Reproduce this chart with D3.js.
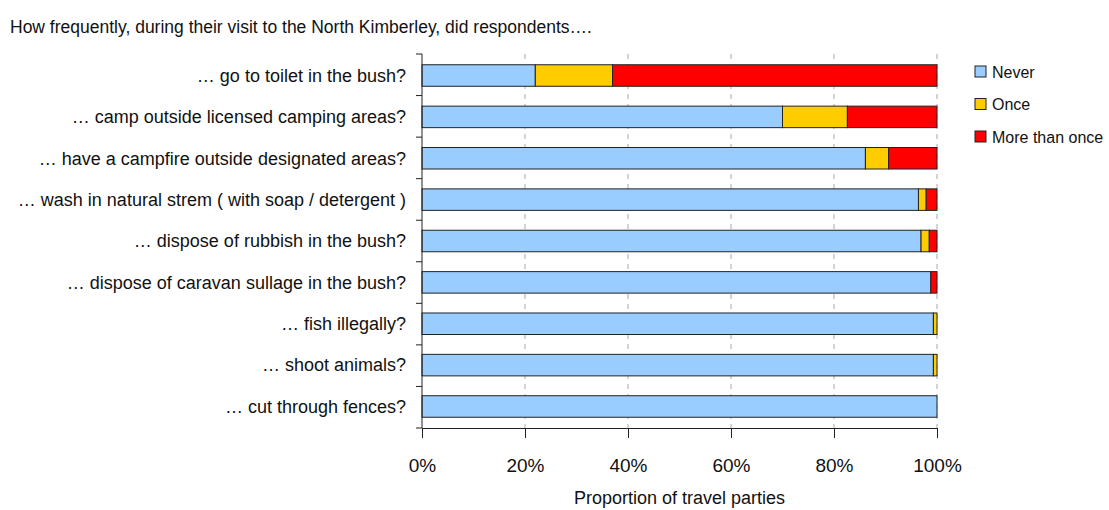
<!DOCTYPE html>
<html>
<head>
<meta charset="utf-8">
<script src="https://cdn.jsdelivr.net/npm/d3@7"></script>
<style>
  body { margin: 0; background: #fff; }
  svg { display: block; }
  text { font-family: "Liberation Sans Narrow", "Arial Narrow", "Liberation Sans", sans-serif; fill: #111; }
</style>
</head>
<body>
<svg id="chart" width="1109" height="510"></svg>
<script>
// Behaviours asked about in the survey (top to bottom)
const categories = [
  "… go to toilet in the bush?",
  "… camp outside licensed camping areas?",
  "… have a campfire outside designated areas?",
  "… wash in natural strem ( with soap / detergent )",
  "… dispose of rubbish in the bush?",
  "… dispose of caravan sullage in the bush?",
  "… fish illegally?",
  "… shoot animals?",
  "… cut through fences?"
];
// Share of travel parties (%) for each response
const never        = [22.0, 70.0, 86.1, 96.4, 96.9, 98.8, 99.3, 99.3, 100.0];
const once         = [15.0, 12.6,  4.5,  1.5,  1.6,  0.0,  0.7,  0.7,   0.0];
const moreThanOnce = [63.0, 17.4,  9.4,  2.1,  1.5,  1.2,  0.0,  0.0,   0.0];

const seriesNames = ["Never", "Once", "More than once"];
const seriesColors = ["#99ccff", "#ffcc00", "#ff0000"];
const tickValues = [0, 20, 40, 60, 80, 100];

const svg = d3.select("#chart");
const margin = { left: 422, right: 172, top: 54, bottom: 82 };
const W = 1109, H = 510;

const rows = categories.map((c, i) => ({ cat: c, Never: never[i], Once: once[i], "More than once": moreThanOnce[i] }));
const stacked = d3.stack().keys(seriesNames)(rows);

const x = d3.scaleLinear().domain([0, 100]).range([margin.left, W - margin.right]);
const y = d3.scaleBand().domain(categories).range([margin.top, H - margin.bottom]).paddingInner(0.48).paddingOuter(0.26);
const color = d3.scaleOrdinal().domain(seriesNames).range(seriesColors);

// Title
svg.append("text").attr("x", 10).attr("y", 33).attr("font-size", 17.5).text("How frequently, during their visit to the North Kimberley, did respondents….");

// Dashed vertical gridlines
svg.append("g").selectAll("line").data(tickValues.slice(1)).join("line")
  .attr("x1", d => x(d)).attr("x2", d => x(d))
  .attr("y1", margin.top).attr("y2", H - margin.bottom)
  .attr("stroke", "#aaa").attr("stroke-width", 1).attr("stroke-dasharray", "5,5");

// Stacked bars
svg.append("g").selectAll("g").data(stacked).join("g")
  .attr("fill", d => color(d.key))
  .selectAll("rect").data(d => d.filter(s => s[1] - s[0] > 0)).join("rect")
  .attr("x", d => x(d[0]))
  .attr("y", d => y(d.data.cat))
  .attr("width", d => x(d[1]) - x(d[0]))
  .attr("height", y.bandwidth())
  .attr("stroke", "#222").attr("stroke-width", 1);

// Y axis with category labels
const yAxisG = svg.append("g");
yAxisG.append("line").attr("x1", margin.left).attr("x2", margin.left)
  .attr("y1", margin.top).attr("y2", H - margin.bottom).attr("stroke", "#222");
const boundaries = d3.range(categories.length + 1).map(i => margin.top + i * (H - margin.top - margin.bottom) / categories.length);
yAxisG.selectAll("line.tk").data(boundaries).join("line").attr("class", "tk")
  .attr("x1", margin.left - 6).attr("x2", margin.left)
  .attr("y1", d => d).attr("y2", d => d).attr("stroke", "#222");
yAxisG.selectAll("text").data(categories).join("text")
  .attr("x", margin.left - 16)
  .attr("y", d => y(d) + y.bandwidth() / 2)
  .attr("dy", "0.35em").attr("text-anchor", "end").attr("font-size", 18)
  .text(d => d);

// X axis
const xAxis = d3.axisBottom(x).tickValues(tickValues).tickFormat(d => d + "%").tickSize(10).tickPadding(21);
const xg = svg.append("g").attr("transform", `translate(0,${H - margin.bottom})`).call(xAxis);
xg.select(".domain").attr("stroke", "#222");
xg.selectAll(".tick line").attr("stroke", "#222");
xg.selectAll("text").attr("font-size", 19).attr("fill", "#111")
  .attr("font-family", "'Liberation Sans Narrow', 'Arial Narrow', 'Liberation Sans', sans-serif");

svg.append("text").attr("x", (x(0) + x(100)) / 2).attr("y", 504)
  .attr("text-anchor", "middle").attr("font-size", 18).text("Proportion of travel parties");

// Legend
const legend = svg.append("g").attr("transform", "translate(975,66)");
seriesNames.forEach((name, i) => {
  const g = legend.append("g").attr("transform", `translate(0,${i * 32.5})`);
  g.append("rect").attr("width", 11).attr("height", 11).attr("fill", color(name)).attr("stroke", "#222");
  g.append("text").attr("x", 17).attr("y", 6).attr("dy", "0.35em").attr("font-size", 16).text(name);
});
</script>
</body>
</html>
